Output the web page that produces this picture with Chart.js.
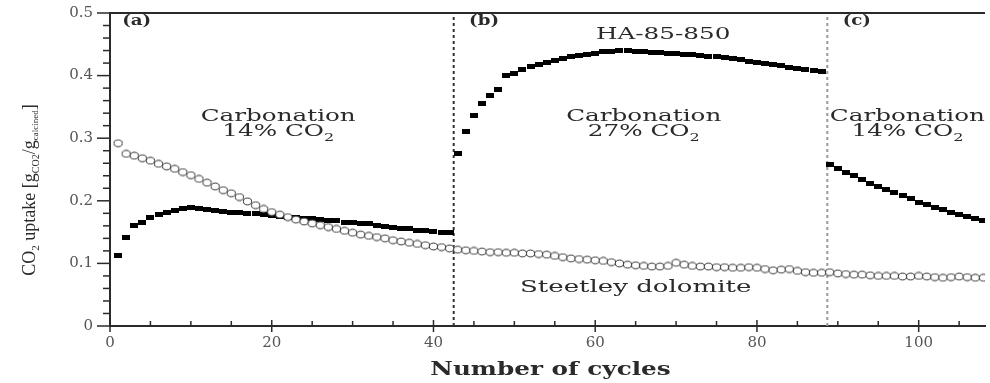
<!DOCTYPE html>
<html>
<head>
<meta charset="utf-8">
<style>
    html, body { margin: 0; padding: 0; background: #fff; }
    #wrap { width: 990px; height: 383px; }
</style>
<script src="https://cdn.jsdelivr.net/npm/chart.js@4.4.1/dist/chart.umd.min.js"></script>
</head>
<body>
<div id="wrap"><canvas id="chart" width="990" height="383"></canvas></div>
<script>
const cycles = [
    1, 2, 3, 4, 5, 6, 7, 8, 9, 10, 11, 12, 13, 14, 15, 16, 17, 18, 19, 20,
    21, 22, 23, 24, 25, 26, 27, 28, 29, 30, 31, 32, 33, 34, 35, 36, 37, 38, 39, 40,
    41, 42, 43, 44, 45, 46, 47, 48, 49, 50, 51, 52, 53, 54, 55, 56, 57, 58, 59, 60,
    61, 62, 63, 64, 65, 66, 67, 68, 69, 70, 71, 72, 73, 74, 75, 76, 77, 78, 79, 80,
    81, 82, 83, 84, 85, 86, 87, 88, 89, 90, 91, 92, 93, 94, 95, 96, 97, 98, 99, 100,
    101, 102, 103, 104, 105, 106, 107, 108,
]

// HA-85-850, stage (a) 14% CO2, cycles 1-42
const haStageA = [
    0.113, 0.141, 0.160, 0.165, 0.173, 0.178, 0.181, 0.184, 0.187, 0.189,
    0.188, 0.186, 0.184, 0.183, 0.182, 0.181, 0.180, 0.179, 0.178, 0.176,
    0.175, 0.174, 0.173, 0.172, 0.171, 0.170, 0.169, 0.168, 0.166, 0.165,
    0.164, 0.163, 0.161, 0.159, 0.157, 0.156, 0.155, 0.153, 0.152, 0.151,
    0.150, 0.149,
]
// stage (b) 27% CO2, cycles 43-88
const haStageB = [
    0.276, 0.310, 0.336, 0.355, 0.368, 0.378, 0.400, 0.404, 0.410, 0.414,
    0.418, 0.421, 0.424, 0.427, 0.430, 0.432, 0.434, 0.436, 0.438, 0.439,
    0.440, 0.440, 0.439, 0.438, 0.437, 0.437, 0.436, 0.435, 0.434, 0.434,
    0.432, 0.431, 0.430, 0.429, 0.427, 0.425, 0.423, 0.421, 0.419, 0.418,
    0.416, 0.413, 0.411, 0.409, 0.408, 0.406,
]
// stage (c) 14% CO2, cycles 89-108
const haStageC = [
    0.258, 0.252, 0.246, 0.240, 0.234, 0.228, 0.223, 0.218, 0.213, 0.208,
    0.203, 0.198, 0.194, 0.190, 0.186, 0.182, 0.178, 0.175, 0.172, 0.169,
]

const steetley = [
    0.292, 0.275, 0.272, 0.268, 0.264, 0.259, 0.255, 0.251, 0.246, 0.241,
    0.235, 0.229, 0.223, 0.217, 0.212, 0.206, 0.199, 0.193, 0.187, 0.182,
    0.178, 0.174, 0.170, 0.167, 0.164, 0.161, 0.158, 0.155, 0.152, 0.149,
    0.146, 0.144, 0.142, 0.140, 0.137, 0.135, 0.133, 0.131, 0.129, 0.127,
    0.126, 0.124, 0.122, 0.121, 0.120, 0.119, 0.118, 0.118, 0.117, 0.117,
    0.116, 0.116, 0.115, 0.114, 0.112, 0.110, 0.108, 0.107, 0.106, 0.105,
    0.104, 0.102, 0.100, 0.098, 0.097, 0.096, 0.095, 0.095, 0.096, 0.101,
    0.098, 0.096, 0.095, 0.095, 0.094, 0.094, 0.093, 0.093, 0.094, 0.093,
    0.091, 0.089, 0.090, 0.091, 0.088, 0.086, 0.085, 0.085, 0.086, 0.084,
    0.083, 0.082, 0.082, 0.081, 0.080, 0.080, 0.080, 0.079, 0.079, 0.080,
    0.079, 0.078, 0.077, 0.078, 0.079, 0.078, 0.077, 0.077,
]

const stageBounds = [42.5, 88.7]

const xTicks = [0, 20, 40, 60, 80, 100]
const xMinorTicks = [5, 10, 15, 25, 30, 35, 45, 50, 55, 65, 70, 75, 85, 90, 95, 105]
const yTicks = [0, 0.1, 0.2, 0.3, 0.4, 0.5]
const yMinorTicks = [
    0.02, 0.04, 0.06, 0.08, 0.12, 0.14, 0.16, 0.18, 0.22, 0.24, 0.26, 0.28,
    0.32, 0.34, 0.36, 0.38, 0.42, 0.44, 0.46, 0.48,
]

const notes = [
    { text: "(a)", x: 1.5, y: 0.486, bold: true, align: "left" },
    { text: "(b)", x: 44.4, y: 0.486, bold: true, align: "left" },
    { text: "(c)", x: 90.6, y: 0.486, bold: true, align: "left" },
    { text: "HA-85-850", x: 68.4, y: 0.465 },
    { text: "Carbonation", x: 20.8, y: 0.334 },
    { text: "14% CO", sub: "2", x: 20.8, y: 0.310 },
    { text: "Carbonation", x: 66.0, y: 0.334 },
    { text: "27% CO", sub: "2", x: 66.0, y: 0.310 },
    { text: "Carbonation", x: 98.6, y: 0.334 },
    { text: "14% CO", sub: "2", x: 98.6, y: 0.310 },
    { text: "Steetley dolomite", x: 65.0, y: 0.062, stretch: 1.53 },
]

const SERIF = "'DejaVu Serif', 'Liberation Serif', serif"
const INK = "#2a2a2a"
const STRETCH = 1.45

const toPoints = (xs, ys) => ys.map((y, i) => ({ x: xs[i], y }))

// the scanned markers are a little wider than tall
function makeSquare() {
    const c = document.createElement("canvas")
    c.width = 8
    c.height = 5
    const g = c.getContext("2d")
    g.fillStyle = "#000"
    g.fillRect(0, 0, 8, 5)
    return c
}

function makeRing() {
    const c = document.createElement("canvas")
    c.width = 11
    c.height = 9
    const g = c.getContext("2d")
    g.strokeStyle = "#333"
    g.fillStyle = "#fff"
    g.lineWidth = 1
    g.beginPath()
    g.ellipse(5.5, 4.5, 4.1, 3.4, 0, 0, Math.PI * 2)
    g.fill()
    g.stroke()
    return c
}

function drawLine(ctx, x1, y1, x2, y2) {
    ctx.beginPath()
    ctx.moveTo(x1, y1)
    ctx.lineTo(x2, y2)
    ctx.stroke()
}

// text drawn with a horizontal stretch, like the scanned figure
function stretchedText(ctx, text, x, y, stretch) {
    ctx.save()
    ctx.translate(x, y)
    ctx.scale(stretch, 1)
    ctx.fillText(text, 0, 0)
    ctx.restore()
}

function drawNote(ctx, note, scales) {
    const px = scales.x.getPixelForValue(note.x)
    const py = scales.y.getPixelForValue(note.y)
    const mainFont = note.bold ? `bold 14px ${SERIF}` : `17px ${SERIF}`
    const stretch = note.stretch || (note.bold ? 1.3 : STRETCH)
    ctx.font = mainFont
    const mainW = ctx.measureText(note.text).width * stretch
    let subW = 0
    if (note.sub) {
        ctx.font = `11px ${SERIF}`
        subW = ctx.measureText(note.sub).width * stretch
    }
    const start = note.align == "left" ? px : px - (mainW + subW) / 2
    ctx.textAlign = "left"
    ctx.textBaseline = "middle"
    ctx.font = mainFont
    stretchedText(ctx, note.text, start, py, stretch)
    if (note.sub) {
        ctx.font = `11px ${SERIF}`
        stretchedText(ctx, note.sub, start + mainW, py + 6, stretch)
    }
}

function drawYTitle(ctx, cx, cy) {
    const parts = [
        { t: "CO", size: 18 },
        { t: "2", size: 11, dy: 6 },
        { t: " uptake [g", size: 18 },
        { t: "CO2", size: 10, dy: 6 },
        { t: "/g", size: 18 },
        { t: "calcined", size: 9, dy: 6 },
        { t: "]", size: 18 },
    ]
    ctx.save()
    ctx.translate(cx, cy)
    ctx.rotate(-Math.PI / 2)
    ctx.fillStyle = INK
    ctx.textBaseline = "middle"
    ctx.textAlign = "left"
    const widths = parts.map(p => {
        ctx.font = `${p.size}px 'Liberation Serif', serif`
        return ctx.measureText(p.t).width
    })
    const total = widths.reduce((a, b) => a + b, 0)
    let pos = -total / 2
    parts.forEach((p, i) => {
        ctx.font = `${p.size}px 'Liberation Serif', serif`
        ctx.fillText(p.t, pos, p.dy || 0)
        pos += widths[i]
    })
    ctx.restore()
}

const decorPlugin = {
    id: "decor",
    afterDraw(chart) {
        const { ctx, chartArea: { left, right, top, bottom }, scales } = chart
        const { x, y } = scales
        ctx.save()
        ctx.strokeStyle = INK
        ctx.lineWidth = 2
        drawLine(ctx, left, top, right, top)

        ctx.lineWidth = 1.5
        yTicks.forEach(v => {
            const py = y.getPixelForValue(v)
            drawLine(ctx, left - 13, py, left, py)
        })
        yMinorTicks.forEach(v => {
            const py = y.getPixelForValue(v)
            drawLine(ctx, left - 7, py, left, py)
        })
        xTicks.forEach(v => {
            const px = x.getPixelForValue(v)
            drawLine(ctx, px, bottom - 6, px, bottom + 6)
        })
        xMinorTicks.forEach(v => {
            const px = x.getPixelForValue(v)
            drawLine(ctx, px, bottom - 5, px, bottom)
        })

        ctx.fillStyle = INK
        notes.forEach(note => drawNote(ctx, note, scales))

        // x axis title
        ctx.font = `bold 19px ${SERIF}`
        ctx.textBaseline = "middle"
        const titleW = ctx.measureText("Number of cycles").width * 1.3
        stretchedText(ctx, "Number of cycles", (left + right) / 2 + 3 - titleW / 2, 370, 1.3)

        drawYTitle(ctx, 30, 190)
        ctx.restore()
    },
}

const tickFont = { family: SERIF, size: 15 }

new Chart(document.getElementById("chart"), {
    type: "scatter",
    data: {
        datasets: [
            {
                label: "Steetley dolomite",
                data: toPoints(cycles, steetley),
                pointStyle: makeRing(),
            },
            {
                label: "HA-85-850",
                data: [
                    ...toPoints(cycles.slice(0, 42), haStageA),
                    ...toPoints(cycles.slice(42, 88), haStageB),
                    ...toPoints(cycles.slice(88), haStageC),
                ],
                pointStyle: makeSquare(),
            },
            {
                label: "stage a/b",
                data: [{ x: stageBounds[0], y: 0 }, { x: stageBounds[0], y: 0.5 }],
                showLine: true,
                pointRadius: 0,
                borderColor: "#333",
                borderWidth: 2,
                borderDash: [3, 3],
            },
            {
                label: "stage b/c",
                data: [{ x: stageBounds[1], y: 0 }, { x: stageBounds[1], y: 0.5 }],
                showLine: true,
                pointRadius: 0,
                borderColor: "#999",
                borderWidth: 2,
                borderDash: [3, 3],
            },
        ],
    },
    options: {
        responsive: false,
        animation: false,
        layout: { padding: { top: 13, right: 0, left: 0, bottom: 0 } },
        plugins: {
            legend: { display: false },
            tooltip: { enabled: false },
        },
        scales: {
            x: {
                type: "linear",
                min: 0,
                max: 108.2,
                afterBuildTicks: scale => {
                    scale.ticks = xTicks.map(value => ({ value }))
                },
                afterFit: scale => {
                    scale.height = 57
                    scale.paddingLeft = 0
                    scale.paddingRight = 0
                },
                grid: { display: false, drawTicks: false },
                border: { display: true, color: INK, width: 2 },
                ticks: {
                    color: "#555",
                    font: tickFont,
                    padding: 8,
                    maxRotation: 0,
                    autoSkip: false,
                },
            },
            y: {
                type: "linear",
                min: 0,
                max: 0.5,
                afterBuildTicks: scale => {
                    scale.ticks = yTicks.map(value => ({ value }))
                },
                afterFit: scale => {
                    scale.width = 110
                    scale.paddingTop = 0
                    scale.paddingBottom = 0
                },
                grid: { display: false, drawTicks: false },
                border: { display: true, color: INK, width: 2 },
                ticks: {
                    color: "#555",
                    font: tickFont,
                    padding: 17,
                    callback: v => String(v),
                },
            },
        },
    },
    plugins: [decorPlugin],
})
</script>
</body>
</html>
